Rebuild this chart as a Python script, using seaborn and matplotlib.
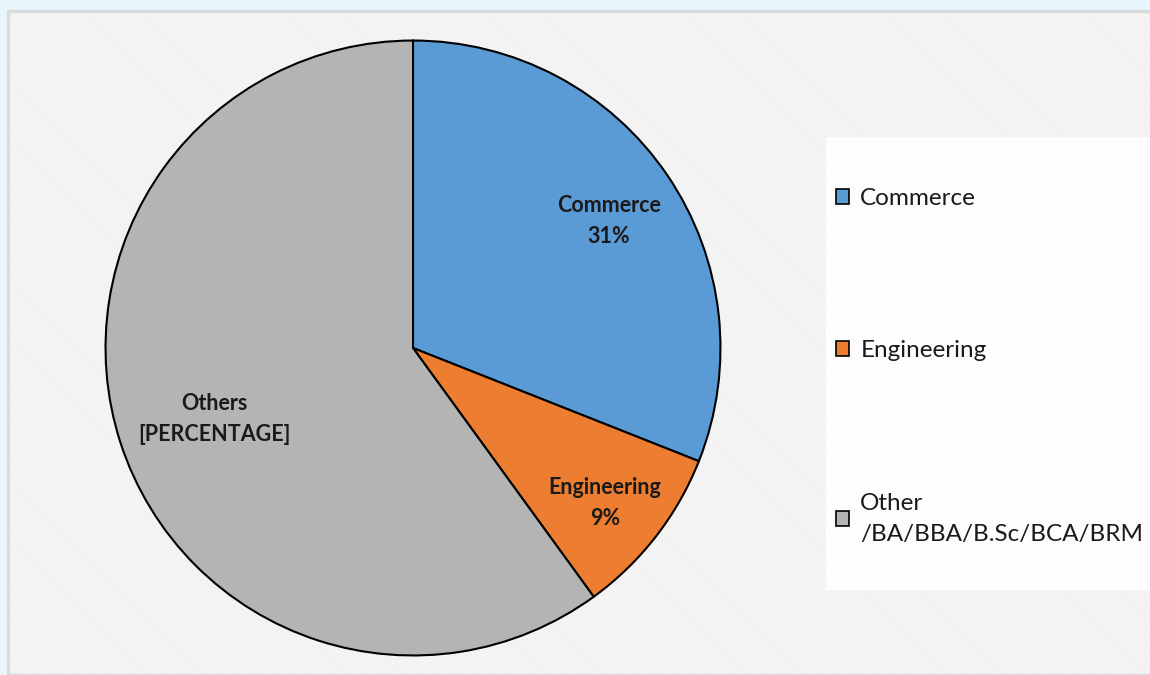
import numpy as np
import matplotlib
matplotlib.use("Agg")
import matplotlib.pyplot as plt
from matplotlib.patches import Rectangle, Patch
import seaborn as sns

# data
categories = ["Commerce", "Engineering", "Other\n/BA/BBA/B.Sc/BCA/BRM"]
slice_names = ["Commerce", "Engineering", "Others"]
shares = [31, 9, 60]
slice_texts = ["31%", "9%", "[PERCENTAGE]"]
colors = ["#5B9BD5", "#ED7D31", "#B4B4B4"]

sns.set_theme(style="white")
plt.rcParams["font.family"] = ["Lato", "DejaVu Sans"]
plt.rcParams["hatch.linewidth"] = 2.5
plt.rcParams["hatch.color"] = "#F2F2F2"

fig = plt.figure(figsize=(11.5, 6.75), dpi=100)
fig.patch.set_facecolor("#E9F5FC")

# chart area with diagonal weave-like pattern
fig.patches.append(Rectangle((8 / 1150, 0), 1, 1 - 11 / 675, transform=fig.transFigure,
                             facecolor="#FDFDFD", edgecolor="#F2F2F2", linewidth=0,
                             hatch="\\" * 6, zorder=0))
fig.patches.append(Rectangle((8 / 1150, 0), 1, 1 - 11 / 675, transform=fig.transFigure,
                             facecolor="none", edgecolor="#DADADA", linewidth=2.5, zorder=1))
# legend panel
fig.patches.append(Rectangle((826 / 1150, 1 - 590 / 675), 1, (590 - 137) / 675,
                             transform=fig.transFigure, facecolor="#FDFDFD",
                             edgecolor="none", zorder=1))

ax = fig.add_axes([104 / 1150, 18 / 675, 618 / 1150, 618 / 675])
ax.set_zorder(3)
ax.set_facecolor("none")
wedges, _ = ax.pie(shares, colors=colors, startangle=90, counterclock=False,
                   wedgeprops=dict(edgecolor="black", linewidth=1.5))
ax.set_xlim(-1.005, 1.005)
ax.set_ylim(-1.005, 1.005)
ax.set_aspect("equal")

# data labels, Excel "best fit" style
dists = [0.77, 0.79, 0.68]
for w, name, txt, d in zip(wedges, slice_names, slice_texts, dists):
    ang = np.deg2rad((w.theta1 + w.theta2) / 2)
    ax.text(d * np.cos(ang), d * np.sin(ang) - 0.02, f"{name}\n{txt}", ha="center", va="center",
            fontsize=15.5, fontweight="bold", color="#1a1a1a", linespacing=1.6)

handles = [Patch(facecolor=c, edgecolor="black", linewidth=1.2) for c in colors]
leg = fig.legend(handles, categories, loc="upper left", bbox_to_anchor=(836 / 1150, 1 - 188 / 675),
                 frameon=False, fontsize=17.5, handlelength=0.55, handleheight=0.55,
                 handletextpad=0.45, labelspacing=5.4, borderpad=0, borderaxespad=0,
                 labelcolor="#1a1a1a")
for t in leg.get_texts():
    t.set_linespacing(1.6)
leg.set_zorder(4)

fig.savefig("out.png", dpi=100)
